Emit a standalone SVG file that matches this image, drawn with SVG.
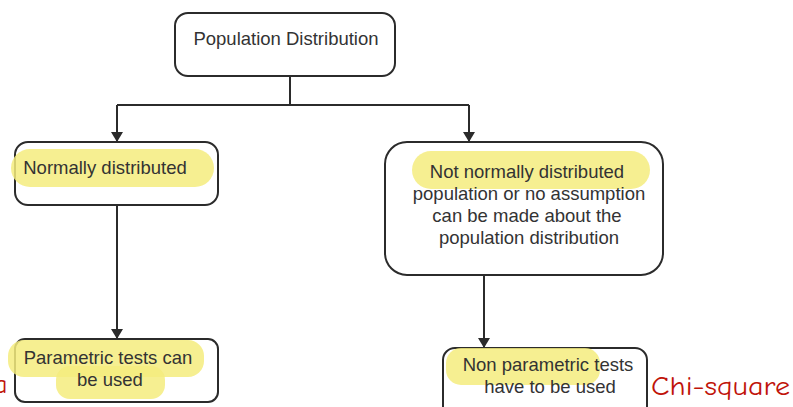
<svg xmlns="http://www.w3.org/2000/svg" width="793" height="407" viewBox="0 0 793 407">
<defs>
<style>
.box{fill:#fff;stroke:#2b2b2b;stroke-width:2}
.hl{fill:#f5ec7e;opacity:0.85}
.t{font-family:"Liberation Sans",Arial,sans-serif;font-size:18.5px;fill:#333;text-anchor:middle}
.conn{fill:none;stroke:#2b2b2b;stroke-width:2}
.red{font-family:"Comic Neue","DejaVu Sans",sans-serif;font-size:26px;fill:#c0140a}
</style>
<marker id="arr" markerWidth="10" markerHeight="10" refX="5" refY="9" orient="auto" markerUnits="userSpaceOnUse" viewBox="0 0 10 10">
<path d="M0,0 L10,0 L5,9 Z" fill="#2b2b2b" transform="rotate(-90 5 5)"/>
</marker>
<marker id="ah" markerWidth="12" markerHeight="12" refX="10" refY="6" orient="auto" markerUnits="userSpaceOnUse">
<path d="M0,0 L10,6 L0,12 Z" fill="#2b2b2b"/>
</marker>
</defs>
<rect width="793" height="407" fill="#fff"/>
<g id="connectors">
<path class="conn" d="M290,76 V105 M117,105 H469"/>
<path class="conn" d="M117,105 V142" marker-end="url(#ah)"/>
<path class="conn" d="M469,105 V142" marker-end="url(#ah)"/>
<path class="conn" d="M117,205 V339" marker-end="url(#ah)"/>
<path class="conn" d="M484,275 V348" marker-end="url(#ah)"/>
</g>
<g id="population">
<rect class="box" x="175" y="13" width="220" height="63" rx="13"/>
<text class="t" x="286" y="45">Population Distribution</text>
</g>
<g id="normal">
<rect class="box" x="15" y="142" width="203" height="63" rx="13"/>
<rect class="hl" x="11" y="149" width="203" height="38" rx="19"/>
<text class="t" x="105" y="174">Normally distributed</text>
</g>
<g id="notnormal">
<rect class="box" x="385" y="142" width="278" height="133" rx="22"/>
<rect class="hl" x="412" y="151" width="238" height="38" rx="19"/>
<text class="t" x="527" y="178">Not normally distributed</text>
<text class="t" x="529" y="200">population or no assumption</text>
<text class="t" x="527" y="222">can be made about the</text>
<text class="t" x="529" y="244">population distribution</text>
</g>
<g id="parametric">
<rect class="box" x="15" y="339" width="203" height="63" rx="10"/>
<rect class="hl" x="8" y="340" width="196" height="37" rx="16"/>
<rect class="hl" x="56" y="366" width="109" height="33" rx="14"/>
<text class="t" x="108" y="364">Parametric tests can</text>
<text class="t" x="110" y="386">be used</text>
</g>
<g id="nonparametric">
<rect class="box" x="443" y="348" width="204" height="70" rx="12"/>
<rect class="hl" x="446" y="348" width="154" height="37" rx="15"/>
<text class="t" x="548" y="371">Non parametric tests</text>
<text class="t" x="550" y="393">have to be used</text>
</g>
<text class="red" x="651" y="395" textLength="139" lengthAdjust="spacingAndGlyphs">Chi-square</text>
<text class="red" x="-6" y="393">a</text>
</svg>
